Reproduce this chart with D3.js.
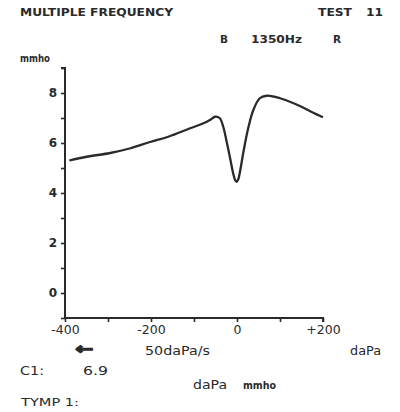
<!DOCTYPE html>
<html><head><meta charset="utf-8">
<script src="https://cdn.jsdelivr.net/npm/d3@7"></script>
<style>html,body{margin:0;padding:0;background:#fff;}svg{display:block;}</style>
</head><body>
<script>
const pressure = [-390,-350,-295,-250,-202,-160,-109,-78,-62,-51,-40,-32,-24,-16,-9,-4,-1,3,7,15,26,38,53,69,85,100,123,150,175,200];
const admittance = [5.3,5.45,5.6,5.78,6.04,6.25,6.59,6.79,6.93,7.05,6.99,6.65,6.05,5.39,4.79,4.5,4.45,4.55,4.85,5.65,6.59,7.32,7.79,7.89,7.86,7.79,7.65,7.45,7.23,7.03];
const xTicks = [-400,-300,-200,-100,0,100,200];
const xTickLabels = ["-400","","-200","","0","","+200"];
const yTicks = [-1,0,1,2,3,4,5,6,7,8,9];
const yTickLabels = ["","0","","2","","4","","6","","8",""];

const W=400,H=412;
const svg=d3.select("body").append("svg").attr("width",W).attr("height",H);
const x=d3.scaleLinear().domain([-400,200]).range([65,323]);
const y=d3.scaleLinear().domain([-1,9]).range([318,68]);
const ink="#2a2a2a";
const font="'DejaVu Sans', sans-serif";

// axes
const yAxis=d3.axisLeft(y).tickValues(yTicks).tickSize(4).tickFormat((d,i)=>yTickLabels[i]);
const gy=svg.append("g").attr("transform","translate(65,0)").call(yAxis);
gy.select(".domain").attr("stroke",ink).attr("stroke-width",2).attr("d","M-4,68H0V318");
gy.selectAll(".tick line").attr("stroke",ink).attr("stroke-width",1.6);
gy.selectAll(".tick text").attr("font-family",font).attr("font-size",12).attr("font-weight","bold").attr("fill",ink).attr("x",-8);

const xAxis=d3.axisBottom(x).tickValues(xTicks).tickSize(4).tickFormat((d,i)=>xTickLabels[i]);
const gx=svg.append("g").attr("transform","translate(0,318)").call(xAxis);
gx.select(".domain").attr("stroke",ink).attr("stroke-width",2).attr("d","M65,0H323V4");
gx.selectAll(".tick line").attr("stroke",ink).attr("stroke-width",1.6);
gx.selectAll(".tick text").attr("font-family",font).attr("font-size",12.5).attr("fill",ink).attr("y",7);

// curve
const line=d3.line().x((d,i)=>x(pressure[i])).y((d,i)=>y(admittance[i])).curve(d3.curveCatmullRom.alpha(0.5));
svg.append("path").datum(admittance).attr("d",line).attr("fill","none").attr("stroke",ink).attr("stroke-width",2.3).attr("stroke-linejoin","round");

// texts
function t(s,xx,yy,size,len,anchor){
  const e=svg.append("text").attr("x",xx).attr("y",yy).attr("font-family",font).attr("font-size",size||10.5).attr("fill",ink).attr("font-weight","bold").text(s);
  if(len) e.attr("textLength",len).attr("lengthAdjust","spacingAndGlyphs");
  if(anchor) e.attr("text-anchor",anchor);
  return e;
}
t("MULTIPLE FREQUENCY",20,16,10.5,153);
t("TEST",318,16,10.5,34);
t("11",366,16,10.5,17);
t("B",220,43,10.5);
t("1350Hz",251,43,10.5,51);
t("R",333,43,10.5);
t("mmho",20,62,10,30);
t("\u2190",75,354,15,18).attr("stroke",ink).attr("stroke-width",1.3);
t("50daPa/s",145,355,11.5,65).attr("font-weight","normal");
t("daPa",350,355,11.5,31).attr("font-weight","normal");
t("C1:",20,375,11.5,24).attr("font-weight","normal");
t("6.9",83,375,11.5,25).attr("font-weight","normal");
t("daPa",193,389,11.5,34).attr("font-weight","normal");
t("mmho",243,389,10.5,33);
t("TYMP 1:",21,406,10.5,58).attr("font-weight","normal");
</script>
</body></html>
